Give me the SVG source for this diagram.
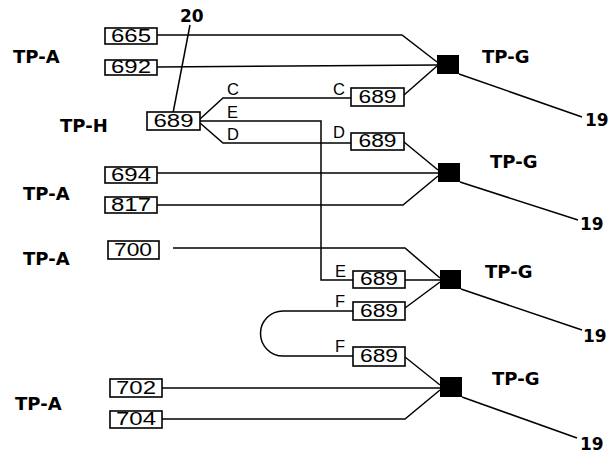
<svg xmlns="http://www.w3.org/2000/svg" width="610" height="454" viewBox="0 0 610 454">
<style>
.bg{fill:#fff}
.box{fill:#fff;stroke:#000;stroke-width:1.6}
.num{font-family:"Liberation Sans",Arial,sans-serif;font-size:18px;text-anchor:middle;fill:#000}
.sq{fill:#000}
.ln{fill:none;stroke:#000;stroke-width:1.5;stroke-linejoin:miter}
.tp{font-family:"DejaVu Sans",sans-serif;font-weight:bold;font-size:18px;fill:#000}
.ref{font-family:"DejaVu Sans",sans-serif;font-weight:bold;font-size:17px;fill:#000}
.lt{font-family:"Liberation Sans",Arial,sans-serif;font-size:16.5px;fill:#000}
</style>
<rect class="bg" width="610" height="454"/>
<g id="connectors">
<path class="ln" d="M157,35 H402 L437,62"/>
<path class="ln" d="M157,67 L437,65"/>
<path class="ln" d="M200,119 L223,98 H351"/>
<path class="ln" d="M200,121 H321 V280 H353"/>
<path class="ln" d="M200,123 L223,143 H351"/>
<path class="ln" d="M404,95 L437,66"/>
<path class="ln" d="M404,142 L438,170"/>
<path class="ln" d="M157,173 H438"/>
<path class="ln" d="M157,205 H403 L438,176"/>
<path class="ln" d="M173,248 H405 L440,278"/>
<path class="ln" d="M405,280 H440"/>
<path class="ln" d="M405,308 L440,282"/>
<path class="ln" d="M353,311 H283 A22.5,22.5 0 0 0 283,356 H353"/>
<path class="ln" d="M405,357 L440,385"/>
<path class="ln" d="M162,388 H440"/>
<path class="ln" d="M162,419 H405 L440,390"/>
<path class="ln" d="M190,25 L173,113"/>
<path class="ln" d="M459,74 L582,117"/>
<path class="ln" d="M460,182 L578,220"/>
<path class="ln" d="M461,289 L582,330"/>
<path class="ln" d="M462,397 L577,438"/>
</g>
<g id="n665"><rect class="box" x="105" y="28" width="52" height="16"/><text class="num" x="131" y="42" textLength="40" lengthAdjust="spacingAndGlyphs">665</text></g>
<g id="n692"><rect class="box" x="105" y="60" width="52" height="15"/><text class="num" x="131" y="73" textLength="40" lengthAdjust="spacingAndGlyphs">692</text></g>
<g id="n694"><rect class="box" x="105" y="167" width="52" height="16"/><text class="num" x="131" y="181" textLength="40" lengthAdjust="spacingAndGlyphs">694</text></g>
<g id="n817"><rect class="box" x="105" y="197" width="52" height="16"/><text class="num" x="131" y="211" textLength="40" lengthAdjust="spacingAndGlyphs">817</text></g>
<g id="n700"><rect class="box" x="108" y="241" width="51" height="18"/><text class="num" x="133" y="256" textLength="38" lengthAdjust="spacingAndGlyphs">700</text></g>
<g id="n702"><rect class="box" x="110" y="379" width="52" height="18"/><text class="num" x="136" y="394" textLength="40" lengthAdjust="spacingAndGlyphs">702</text></g>
<g id="n704"><rect class="box" x="110" y="411" width="52" height="17"/><text class="num" x="136" y="425" textLength="40" lengthAdjust="spacingAndGlyphs">704</text></g>
<g id="h689"><rect class="box" x="147" y="112" width="53" height="18"/><text class="num" x="173.5" y="127" textLength="40" lengthAdjust="spacingAndGlyphs">689</text></g>
<g id="c689"><rect class="box" x="351" y="88" width="53" height="18"/><text class="num" x="377.5" y="103" textLength="38" lengthAdjust="spacingAndGlyphs">689</text></g>
<g id="d689"><rect class="box" x="351" y="133" width="53" height="17"/><text class="num" x="377.5" y="147" textLength="38" lengthAdjust="spacingAndGlyphs">689</text></g>
<g id="e689"><rect class="box" x="353" y="271" width="52" height="17"/><text class="num" x="379" y="285" textLength="38" lengthAdjust="spacingAndGlyphs">689</text></g>
<g id="f1689"><rect class="box" x="353" y="302" width="52" height="18"/><text class="num" x="379" y="317" textLength="38" lengthAdjust="spacingAndGlyphs">689</text></g>
<g id="f2689"><rect class="box" x="353" y="347" width="52" height="19"/><text class="num" x="379" y="362" textLength="38" lengthAdjust="spacingAndGlyphs">689</text></g>
<g id="sq1"><rect class="sq" x="437" y="55" width="22" height="19"/></g>
<g id="sq2"><rect class="sq" x="438" y="163" width="22" height="19"/></g>
<g id="sq3"><rect class="sq" x="440" y="270" width="21" height="19"/></g>
<g id="sq4"><rect class="sq" x="440" y="377" width="22" height="20"/></g>
<g id="labels">
<text class="tp" x="13" y="63">TP-A</text>
<text class="tp" x="60" y="132">TP-H</text>
<text class="tp" x="23" y="200">TP-A</text>
<text class="tp" x="23" y="265">TP-A</text>
<text class="tp" x="15" y="410">TP-A</text>
<text class="tp" x="482" y="63">TP-G</text>
<text class="tp" x="490" y="168">TP-G</text>
<text class="tp" x="485" y="278">TP-G</text>
<text class="tp" x="492" y="385">TP-G</text>
<text class="ref" x="180" y="22">20</text>
<text class="ref" x="585" y="126">19</text>
<text class="ref" x="580" y="230">19</text>
<text class="ref" x="583" y="342">19</text>
<text class="ref" x="580" y="450">19</text>
<text class="lt" x="227" y="95">C</text>
<text class="lt" x="227" y="118">E</text>
<text class="lt" x="227" y="140">D</text>
<text class="lt" x="333" y="95">C</text>
<text class="lt" x="333" y="138">D</text>
<text class="lt" x="335" y="277">E</text>
<text class="lt" x="335" y="307">F</text>
<text class="lt" x="335" y="352">F</text>
</g>
</svg>
